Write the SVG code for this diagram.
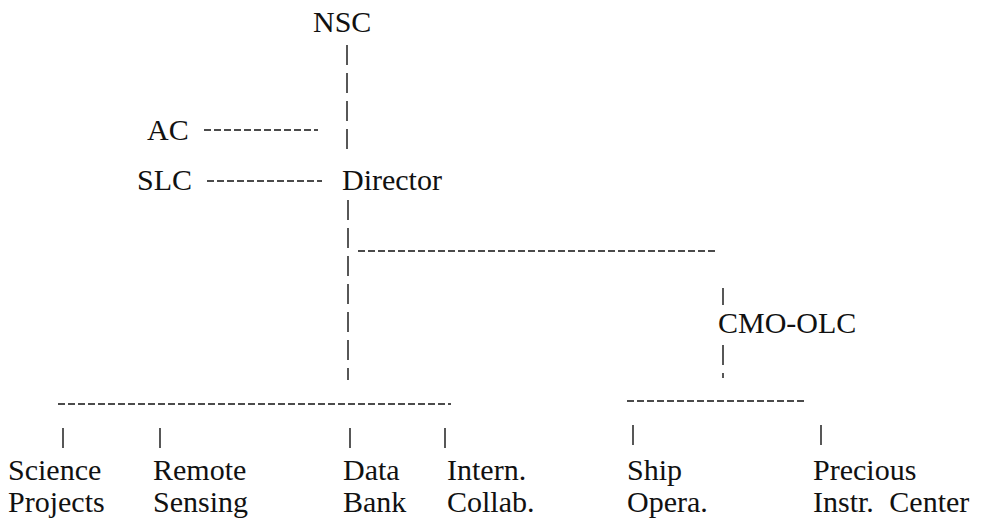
<svg xmlns="http://www.w3.org/2000/svg" width="982" height="531" viewBox="0 0 982 531">
<style>
text{font-family:'Liberation Serif','Times New Roman',serif;font-size:30px;fill:#111}
.v{stroke:#111;stroke-width:1.4;stroke-dasharray:20 8;fill:none}
.h{stroke:#111;stroke-width:1.6;stroke-dasharray:7 3;fill:none}
</style>
<rect width="982" height="531" fill="#fff"/>
<g id="connectors">
<line class="v" x1="347" y1="45" x2="347" y2="150"/>
<line class="h" x1="204" y1="130" x2="318" y2="130"/>
<line class="h" x1="207" y1="181" x2="322" y2="181"/>
<line class="v" x1="348" y1="200" x2="348" y2="380"/>
<line class="h" x1="358" y1="251" x2="718" y2="251"/>
<line class="v" x1="723" y1="288" x2="723" y2="305"/>
<line class="v" x1="723" y1="345" x2="723" y2="378"/>
<line class="h" x1="58" y1="404" x2="451" y2="404"/>
<line class="v" x1="63" y1="428" x2="63" y2="455"/>
<line class="v" x1="160" y1="428" x2="160" y2="455"/>
<line class="v" x1="350" y1="428" x2="350" y2="455"/>
<line class="v" x1="445" y1="428" x2="445" y2="455"/>
<line class="h" x1="627" y1="401" x2="807" y2="401"/>
<line class="v" x1="633" y1="425" x2="633" y2="452"/>
<line class="v" x1="821" y1="425" x2="821" y2="452"/>
</g>
<g font-family="Liberation Serif, serif">
<g id="nsc"><text x="313" y="32">NSC</text></g>
<g id="ac"><text x="147" y="140">AC</text></g>
<g id="slc"><text x="137" y="190">SLC</text></g>
<g id="director"><text x="342" y="190">Director</text></g>
<g id="cmo-olc"><text x="718" y="333">CMO-OLC</text></g>
<g id="science"><text x="8" y="480">Science</text><text x="8" y="512">Projects</text></g>
<g id="remote"><text x="153" y="480">Remote</text><text x="153" y="512">Sensing</text></g>
<g id="data"><text x="343" y="480">Data</text><text x="343" y="512">Bank</text></g>
<g id="intern"><text x="447" y="480">Intern.</text><text x="447" y="512">Collab.</text></g>
<g id="ship"><text x="627" y="480">Ship</text><text x="627" y="512">Opera.</text></g>
<g id="precious"><text x="813" y="480">Precious</text><text x="813" y="512">Instr. <tspan dx="8">Center</tspan></text></g>
</g>
</svg>
